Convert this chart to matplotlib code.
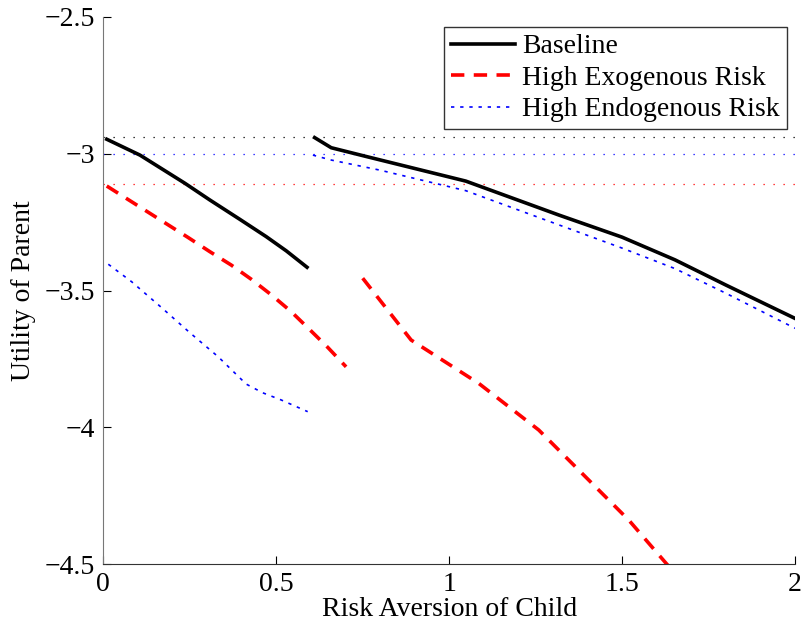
import numpy as np
import matplotlib
matplotlib.use('Agg')
import matplotlib.pyplot as plt

plt.rcParams['font.family'] = ['Liberation Serif', 'DejaVu Serif']
plt.rcParams['axes.unicode_minus'] = True

# Данные
base_x1 = [0.01, 0.106, 0.236, 0.308, 0.395, 0.471, 0.529, 0.589]
base_y1 = [-2.947, -3.005, -3.108, -3.169, -3.24, -3.303, -3.355, -3.415]
base_x2 = [0.611, 0.659, 0.76, 1.048, 1.317, 1.5, 1.653, 1.8, 2.0]
base_y2 = [-2.941, -2.978, -3.01, -3.1, -3.224, -3.305, -3.388, -3.48, -3.602]

exo_x1 = [0.01, 0.245, 0.308, 0.37, 0.428, 0.486, 0.543, 0.596, 0.649, 0.702]
exo_y1 = [-3.118, -3.306, -3.358, -3.407, -3.459, -3.516, -3.577, -3.642, -3.708, -3.779]
exo_x2 = [0.75, 0.89, 1.086, 1.259, 1.413, 1.519, 1.629, 1.7]
exo_y2 = [-3.455, -3.681, -3.84, -4.01, -4.205, -4.339, -4.5, -4.6]

endo_x1 = [0.0145, 0.082, 0.168, 0.25, 0.332, 0.413, 0.461, 0.514, 0.591]
endo_y1 = [-3.404, -3.468, -3.562, -3.654, -3.742, -3.842, -3.874, -3.9, -3.943]
endo_x2 = [0.606, 0.659, 0.8, 1.048, 1.317, 1.5, 1.653, 1.8, 2.0]
endo_y2 = [-3.005, -3.023, -3.06, -3.135, -3.26, -3.345, -3.42, -3.51, -3.638]

# уровни горизонтальных пунктиров
ref_levels = [-2.938, -3.002, -3.111]
ref_colors = ['black', 'blue', 'red']

fig = plt.figure(figsize=(8.02, 6.29), dpi=100)
ax = fig.add_axes([0.1288, 0.1033, 0.8625, 0.8697])

for lev, c in zip(ref_levels, ref_colors):
    ax.axhline(lev, color=c, linestyle=(0, (1, 7)), linewidth=0.9)

exo_ls = (0, (3.7, 2.6))
endo_ls = (0, (2.0, 3.5))

ax.plot(base_x1, base_y1, color='black', linewidth=2.6, label='Baseline')
ax.plot(base_x2, base_y2, color='black', linewidth=2.6)
ax.plot(exo_x1, exo_y1, color='red', linewidth=2.6, linestyle=exo_ls,
        label='High Exogenous Risk')
ax.plot(exo_x2, exo_y2, color='red', linewidth=2.6, linestyle=exo_ls)
ax.plot(endo_x1, endo_y1, color='blue', linewidth=1.2, linestyle=endo_ls,
        label='High Endogenous Risk')
ax.plot(endo_x2, endo_y2, color='blue', linewidth=1.2, linestyle=endo_ls)

ax.set_xlim(0, 2)
ax.set_ylim(-4.5, -2.5)
ax.set_xticks([0, 0.5, 1, 1.5, 2])
ax.set_xticklabels(['0', '0.5', '1', '1.5', '2'])
ax.set_yticks([-4.5, -4, -3.5, -3, -2.5])
ax.set_yticklabels(['\u22124.5', '\u22124', '\u22123.5', '\u22123', '\u22122.5'])

ax.spines['top'].set_visible(False)
ax.spines['right'].set_visible(False)
ax.spines['left'].set_color('#777777')
ax.spines['bottom'].set_color('#333333')
ax.tick_params(direction='in', length=6, labelsize=20, pad=6)

ax.set_xlabel('Risk Aversion of Child', fontsize=20, labelpad=0)
ax.set_ylabel('Utility of Parent', fontsize=20, labelpad=6)

leg = ax.legend(loc='upper right', bbox_to_anchor=(0.988, 0.9817), fontsize=20,
                frameon=True, fancybox=False, handlelength=2.3,
                handletextpad=0.25, borderpad=0.25, labelspacing=0.22,
                borderaxespad=0)
leg.get_frame().set_edgecolor('black')
leg.get_frame().set_linewidth(1.0)

fig.savefig('out.png', dpi=100)
